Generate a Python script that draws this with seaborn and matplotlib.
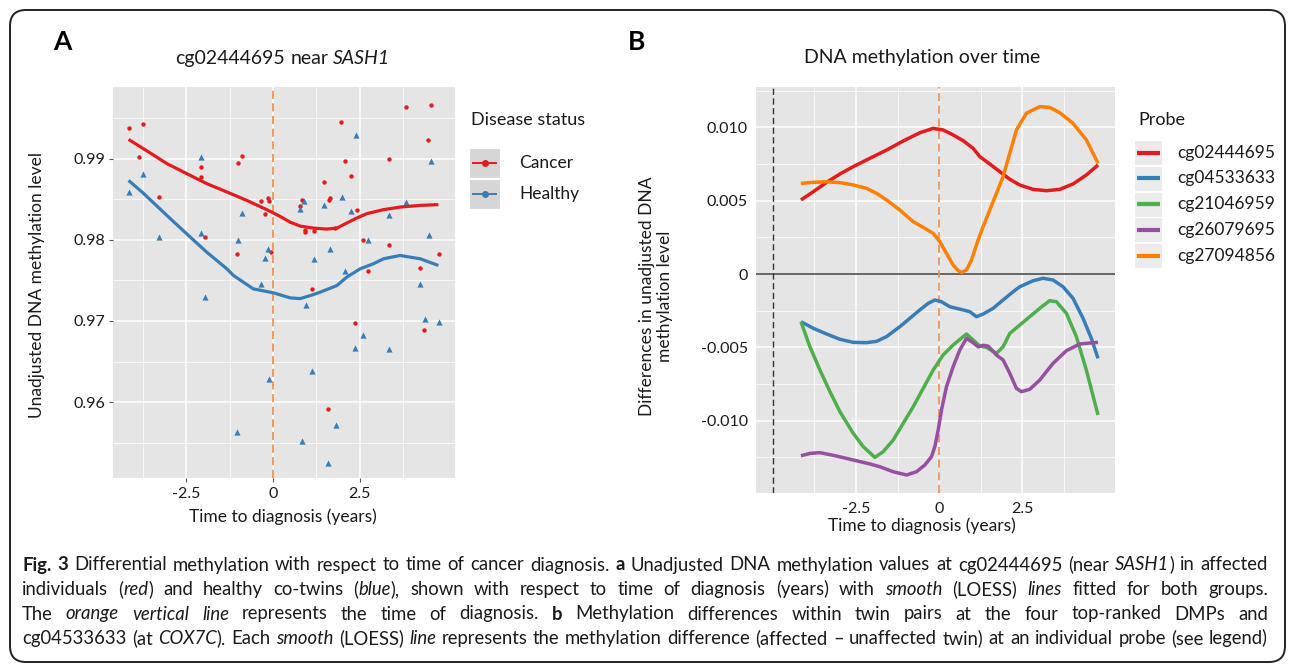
import numpy as np
import pandas as pd
import seaborn as sns
import matplotlib
matplotlib.use("Agg")
import matplotlib.pyplot as plt
from matplotlib.patches import FancyBboxPatch, Rectangle
from matplotlib.lines import Line2D
from matplotlib.transforms import IdentityTransform

# ---------------- data: panel A ----------------
cancer_t = [-4.16, -3.74, -3.87, -3.29, -2.08, -2.08, -1.95, -1.00, -0.89, -1.03, -0.35, -0.14,
            -0.11, -0.24, -0.05, 3.84, 4.54, 1.97, 4.47, 3.35, 2.07, 2.24, 1.46, 0.84, 0.77,
            1.64, 1.60, 2.41, 0.91, 0.93, 1.19, 1.79, 2.59, 3.33, 4.77, 4.23, 2.73, 1.12, 2.35,
            4.36, 1.59]
cancer_m = [0.9937, 0.9942, 0.9902, 0.9853, 0.9889, 0.9877, 0.9803, 0.9894, 0.9903, 0.9783, 0.9848,
            0.9851, 0.9848, 0.9832, 0.9785, 0.9963, 0.9966, 0.9945, 0.9923, 0.9900, 0.9897, 0.9879,
            0.9871, 0.9849, 0.9841, 0.9851, 0.9849, 0.9837, 0.9812, 0.9809, 0.9811, 0.9815, 0.9800,
            0.9794, 0.9782, 0.9765, 0.9761, 0.9739, 0.9697, 0.9689, 0.9592]
healthy_t = [-4.16, -3.74, -3.29, -2.08, -2.08, -0.89, -1.00, -0.14, -0.24, -0.35, -1.95, -0.11,
             -1.03, 2.40, 4.54, 0.90, 0.77, 1.46, 1.98, 2.24, 3.84, 3.33, 4.48, 2.74, 1.64, 1.19,
             2.07, 4.23, 0.94, 4.37, 4.78, 2.60, 2.35, 3.35, 1.12, 1.80, 0.84, 1.59]
healthy_m = [0.9859, 0.9881, 0.9803, 0.9902, 0.9808, 0.9833, 0.9800, 0.9788, 0.9777, 0.9746, 0.9730,
             0.9628, 0.9563, 0.9929, 0.9897, 0.9848, 0.9838, 0.9843, 0.9853, 0.9835, 0.9847, 0.9830,
             0.9806, 0.9800, 0.9788, 0.9776, 0.9762, 0.9746, 0.9720, 0.9702, 0.9699, 0.9683, 0.9667,
             0.9665, 0.9638, 0.9572, 0.9552, 0.9525]

# LOESS curves
cancer_fit_t = [-4.16, -3.74, -3.06, -2.49, -1.91, -1.33, -0.76, -0.18, 0.20, 0.49, 0.78, 1.16,
                1.55, 1.84, 2.12, 2.41, 2.70, 3.18, 3.66, 4.24, 4.76]
cancer_fit_m = [0.99235, 0.99123, 0.98938, 0.98815, 0.98691, 0.98588, 0.98485, 0.98370, 0.98288,
                0.98217, 0.98168, 0.98143, 0.98131, 0.98143, 0.98205, 0.98267, 0.98321, 0.98370,
                0.98402, 0.98423, 0.98432]
healthy_fit_t = [-4.16, -3.74, -3.06, -2.49, -1.91, -1.33, -1.14, -0.57, 0.01, 0.49, 0.78, 1.07,
                 1.35, 1.84, 2.12, 2.51, 2.89, 3.18, 3.66, 4.24, 4.76]
healthy_fit_m = [0.9873, 0.98575, 0.98300, 0.98074, 0.97847, 0.97642, 0.97560, 0.97395, 0.97346,
                 0.97284, 0.97275, 0.97312, 0.97353, 0.97436, 0.97538, 0.97642, 0.97704, 0.97765,
                 0.97806, 0.97765, 0.97683]

status_labels = ["Cancer", "Healthy"]

# ---------------- data: panel B ----------------
probes = ["cg02444695", "cg04533633", "cg21046959", "cg26079695", "cg27094856"]
p1_t = [-4.15, -3.78, -3.38, -2.98, -2.58, -2.08, -1.58, -1.08, -0.58, -0.18, 0.12, 0.42, 0.72,
        1.02, 1.22, 1.52, 1.82, 2.12, 2.42, 2.82, 3.22, 3.62, 4.02, 4.42, 4.77]
p1_d = [0.00505, 0.00561, 0.00625, 0.00682, 0.00732, 0.00789, 0.00845, 0.00907, 0.00963, 0.00993,
        0.00982, 0.00948, 0.00909, 0.00857, 0.00800, 0.00750, 0.00698, 0.00646, 0.00607, 0.00577,
        0.00568, 0.00577, 0.00614, 0.00675, 0.00743]
p2_t = [-4.15, -3.78, -3.38, -2.98, -2.58, -2.18, -1.88, -1.58, -1.18, -0.88, -0.58, -0.33, -0.13,
        0.07, 0.32, 0.72, 0.92, 1.12, 1.32, 1.62, 1.92, 2.22, 2.42, 2.82, 3.12, 3.42, 3.72, 4.02,
        4.32, 4.57, 4.77]
p2_d = [-0.00325, -0.00370, -0.00409, -0.00445, -0.00466, -0.00468, -0.00459, -0.00427, -0.00359,
        -0.00302, -0.00245, -0.00200, -0.00177, -0.00189, -0.00223, -0.00245, -0.00257, -0.00291,
        -0.00273, -0.00234, -0.00177, -0.00121, -0.00087, -0.00046, -0.00029, -0.00041, -0.00087,
        -0.00166, -0.00302, -0.00439, -0.00575]
p3_t = [-4.15, -3.88, -3.58, -3.28, -2.98, -2.58, -2.28, -1.93, -1.68, -1.38, -1.08, -0.78, -0.48,
        -0.18, 0.12, 0.42, 0.82, 1.02, 1.22, 1.42, 1.72, 1.92, 2.12, 2.42, 2.72, 3.02, 3.32, 3.52,
        3.82, 4.12, 4.42, 4.77]
p3_d = [-0.00325, -0.00496, -0.00655, -0.00802, -0.00939, -0.01086, -0.01177, -0.01250, -0.01211,
        -0.01132, -0.01018, -0.00905, -0.00780, -0.00655, -0.00552, -0.00484, -0.00409, -0.00450,
        -0.00491, -0.00500, -0.00541, -0.00496, -0.00405, -0.00348, -0.00291, -0.00234, -0.00182,
        -0.00189, -0.00268, -0.00427, -0.00655, -0.00961]
p4_t = [-4.15, -3.88, -3.58, -3.08, -2.58, -2.08, -1.78, -1.38, -0.98, -0.68, -0.43, -0.23, -0.13,
        -0.03, 0.07, 0.22, 0.42, 0.62, 0.82, 1.02, 1.17, 1.32, 1.47, 1.72, 1.92, 2.12, 2.32, 2.47,
        2.72, 3.02, 3.42, 3.82, 4.22, 4.77]
p4_d = [-0.01239, -0.01223, -0.01218, -0.01241, -0.01268, -0.01295, -0.01314, -0.01348, -0.01370,
        -0.01348, -0.01302, -0.01245, -0.01177, -0.01064, -0.00927, -0.00768, -0.00632, -0.00518,
        -0.00439, -0.00468, -0.00496, -0.00486, -0.00491, -0.00552, -0.00586, -0.00677, -0.00780,
        -0.00802, -0.00786, -0.00723, -0.00609, -0.00523, -0.00477, -0.00466]
p5_t = [-4.15, -3.78, -3.38, -2.98, -2.58, -2.18, -1.88, -1.58, -1.18, -0.78, -0.48, -0.18, 0.02,
        0.22, 0.42, 0.57, 0.67, 0.82, 0.97, 1.17, 1.32, 1.52, 1.72, 1.92, 2.12, 2.32, 2.62, 3.02,
        3.32, 3.62, 4.02, 4.42, 4.77]
p5_d = [0.00618, 0.00625, 0.00629, 0.00623, 0.00607, 0.00584, 0.00550, 0.00505, 0.00436, 0.00357,
        0.00318, 0.00277, 0.00220, 0.00141, 0.00061, 0.00023, 0.00011, 0.00027, 0.00095, 0.00232,
        0.00323, 0.00436, 0.00550, 0.00664, 0.00823, 0.00982, 0.01096, 0.01141, 0.01136, 0.01100,
        0.01027, 0.00914, 0.00755]

xticksA = [-2.5, 0, 2.5]
xtick_labelsA = ["-2.5", "0", "2.5"]
yticksA = [0.96, 0.97, 0.98, 0.99]
ytick_labelsA = ["0.96", "0.97", "0.98", "0.99"]
xticksB = [-2.5, 0, 2.5]
xtick_labelsB = ["-2.5", "0", "2.5"]
yticksB = [-0.010, -0.005, 0, 0.005, 0.010]
ytick_labelsB = ["-0.010", "-0.005", "0", "0.005", "0.010"]

# ---------------- style ----------------
W, H = 1290, 664
sns.set_theme(style="darkgrid")
FAM = ["Lato", "DejaVu Sans"]
plt.rcParams["font.family"] = FAM
plt.rcParams["axes.unicode_minus"] = False
plt.rcParams["lines.solid_joinstyle"] = "round"
plt.rcParams["lines.solid_capstyle"] = "butt"

RED = "#E41A1C"
BLUE = "#377EB8"
probe_colors = ["#E41A1C", "#377EB8", "#4DAF4A", "#984EA3", "#FF7F00"]
PANEL_BG = "#E5E5E5"
TXT = "#1a1a1a"
VLINE = "#E8955A"

fig = plt.figure(figsize=(W / 100, H / 100), dpi=100)
fig.patch.set_facecolor("white")
renderer = fig.canvas.get_renderer()
IDT = IdentityTransform()


def rect(l, t, r, b):
    return [l / W, 1 - b / H, (r - l) / W, (b - t) / H]


def style_axes(ax, xmaj, xmin_, ymaj, ymin_, xl, yl):
    ax.set_facecolor(PANEL_BG)
    for s in ax.spines.values():
        s.set_visible(False)
    ax.set_xticks(xmaj)
    ax.set_xticklabels(xl)
    ax.set_xticks(xmin_, minor=True)
    ax.set_yticks(ymaj)
    ax.set_yticklabels(yl)
    ax.set_yticks(ymin_, minor=True)
    ax.grid(which="major", color="white", lw=1.1)
    ax.grid(which="minor", color="white", lw=0.5)
    ax.tick_params(which="major", length=3, width=0.8, color="#555555", labelsize=11.5,
                   labelcolor=TXT, pad=3, left=True, bottom=True)
    ax.tick_params(which="minor", length=0)
    ax.set_xlabel("")
    ax.set_ylabel("")
    ax.set_axisbelow(True)


# ---------------- panel A ----------------
axA = fig.add_axes(rect(113.3, 87.3, 455, 478.3))
dfA = pd.DataFrame({
    "t": cancer_t + healthy_t,
    "m": cancer_m + healthy_m,
    "status": [status_labels[0]] * len(cancer_t) + [status_labels[1]] * len(healthy_t),
})
sns.scatterplot(data=dfA[dfA.status == "Cancer"], x="t", y="m", color=RED, marker="o", s=10,
                linewidth=0, legend=False, ax=axA, zorder=3)
sns.scatterplot(data=dfA[dfA.status == "Healthy"], x="t", y="m", color=BLUE, marker="^", s=20,
                linewidth=0, legend=False, ax=axA, zorder=3)
sns.lineplot(x=cancer_fit_t, y=cancer_fit_m, color=RED, lw=2.3, sort=False, estimator=None,
             ax=axA, zorder=4)
sns.lineplot(x=healthy_fit_t, y=healthy_fit_m, color=BLUE, lw=2.3, sort=False, estimator=None,
             ax=axA, zorder=4)
axA.axvline(0, color=VLINE, ls=(0, (4.5, 2.5)), lw=1.3, zorder=2.5)
axA.set_xlim(-4.6, 5.24)
axA.set_ylim(0.95062, 0.99877)
style_axes(axA, xticksA, [-3.75, -1.25, 1.25, 3.75], yticksA, [0.955, 0.965, 0.975, 0.985, 0.995],
           xtick_labelsA, ytick_labelsA)

# ---------------- panel B ----------------
axB = fig.add_axes(rect(756, 86.7, 1115, 493.3))
dfB = pd.concat([
    pd.DataFrame({"t": t, "d": d, "probe": p})
    for t, d, p in zip([p1_t, p2_t, p3_t, p4_t, p5_t], [p1_d, p2_d, p3_d, p4_d, p5_d], probes)
])
axB.axhline(0, color="#4d4d4d", lw=1.2, zorder=2)
axB.axvline(-5, color="#333333", ls=(0, (4.5, 2.5)), lw=1.0, zorder=2)
axB.axvline(0, color=VLINE, ls=(0, (4.5, 2.5)), lw=1.3, zorder=2)
sns.lineplot(data=dfB, x="t", y="d", hue="probe", hue_order=probes, palette=probe_colors,
             lw=2.5, sort=False, estimator=None, units="probe", legend=False, ax=axB, zorder=3)
axB.set_xlim(-5.5, 5.28)
axB.set_ylim(-0.01495, 0.01277)
style_axes(axB, xticksB, [-3.75, -1.25, 1.25, 3.75], yticksB,
           [-0.0125, -0.0075, -0.0025, 0.0025, 0.0075, 0.0125], xtick_labelsB, ytick_labelsB)
axB.tick_params(which="major", length=0, pad=6)


# ---------------- text helpers ----------------
def ftext(x, y, s, **kw):
    """text in pixel coords (y from top)."""
    kw.setdefault("color", TXT)
    kw.setdefault("family", FAM)
    return fig.text(x, H - y, s, transform=IDT, **kw)


STY = {"n": dict(), "b": dict(fontweight="bold"), "i": dict(fontstyle="italic")}


def rich_line(segs, x0, ybase, size, x1=None, center=None):
    words = [[]]
    for text, st in segs:
        chunks = text.split(" ")
        for k, c in enumerate(chunks):
            if k > 0:
                words.append([])
            if c:
                words[-1].append((c, st))
    words = [w for w in words if w]
    arts = []
    widths = []
    for w in words:
        row = []
        tot = 0
        for piece, st in w:
            t = fig.text(0, H - ybase, piece, transform=IDT, fontsize=size, family=FAM, color=TXT,
                         va="baseline", ha="left", **STY[st])
            wd = t.get_window_extent(renderer).width
            row.append((t, wd))
            tot += wd
        arts.append(row)
        widths.append(tot)
    a = fig.text(0, 0, "x x", fontsize=size, family=FAM)
    b = fig.text(0, 0, "xx", fontsize=size, family=FAM)
    space = a.get_window_extent(renderer).width - b.get_window_extent(renderer).width
    a.remove()
    b.remove()
    natural = sum(widths) + space * (len(words) - 1)
    if x1 is not None and len(words) > 1:
        gap = (x1 - x0 - sum(widths)) / (len(words) - 1)
    else:
        gap = space
    if center is not None:
        x0 = center - natural / 2
    x = x0
    for row in arts:
        for t, wd in row:
            t.set_x(x)
            x += wd
        x += gap
    return natural


# panel letters & titles
ftext(62, 42, "A", fontsize=19, fontweight="bold", ha="center", va="center", color="black")
ftext(637, 42, "B", fontsize=19, fontweight="bold", ha="center", va="center", color="black")
rich_line([("cg02444695 near ", "n"), ("SASH1", "i")], 0, 64, 14, center=283)
ftext(922, 58, "DNA methylation over time", fontsize=14, ha="center", va="center")

# axis labels
ftext(283, 517, "Time to diagnosis (years)", fontsize=12.5, ha="center", va="center")
ftext(37, 285, "Unadjusted DNA methylation level", fontsize=12.5, ha="center", va="center",
      rotation=90)
ftext(922, 526, "Time to diagnosis (years)", fontsize=12.5, ha="center", va="center")
ftext(656, 296, "Differences in unadjusted DNA\nmethylation level", fontsize=12.5, ha="center",
      va="center", rotation=90, multialignment="center", linespacing=1.15)

# legend A
ftext(471, 120, "Disease status", fontsize=13, ha="left", va="center")
for i, (lab, col) in enumerate(zip(status_labels, [RED, BLUE])):
    top = 148 + i * 31
    fig.add_artist(Rectangle((469, H - top - 30), 31, 30, transform=IDT, facecolor="#D6D6D6",
                             edgecolor="white", lw=0.8))
    cy = H - top - 15
    fig.add_artist(Line2D([472, 497], [cy, cy], transform=IDT, color=col, lw=1.4))
    fig.add_artist(Line2D([484.5], [cy], transform=IDT, color=col, marker="o", ms=5,
                          markeredgewidth=0))
    ftext(519, top + 15, lab, fontsize=12.5, ha="left", va="center")

# legend B
ftext(1138, 120, "Probe", fontsize=13, ha="left", va="center")
for i, (lab, col) in enumerate(zip(probes, probe_colors)):
    cyp = 152.7 + i * 25.75
    fig.add_artist(Rectangle((1134, H - cyp - 12.5), 28, 25, transform=IDT, facecolor="#EBEBEB",
                             edgecolor="white", lw=0.8))
    fig.add_artist(Line2D([1137, 1160], [H - cyp, H - cyp], transform=IDT, color=col, lw=3))
    ftext(1177, cyp, lab, fontsize=12.5, ha="left", va="center")

# caption
cap = [
    [("Fig. 3", "b"), (" Differential methylation with respect to time of cancer diagnosis. ", "n"),
     ("a", "b"), (" Unadjusted DNA methylation values at cg02444695 (near ", "n"), ("SASH1", "i"),
     (") in affected", "n")],
    [("individuals (", "n"), ("red", "i"), (") and healthy co-twins (", "n"), ("blue", "i"),
     ("), shown with respect to time of diagnosis (years) with ", "n"), ("smooth", "i"),
     (" (LOESS) ", "n"), ("lines", "i"), (" fitted for both groups.", "n")],
    [("The ", "n"), ("orange vertical line", "i"), (" represents the time of diagnosis. ", "n"),
     ("b", "b"), (" Methylation differences within twin pairs at the four top-ranked DMPs and", "n")],
    [("cg04533633 (at ", "n"), ("COX7C", "i"), ("). Each ", "n"), ("smooth", "i"), (" (LOESS) ", "n"),
     ("line", "i"), (" represents the methylation difference (affected \u2013 unaffected twin) at an "
                     "individual probe (see legend)", "n")],
]
probe_t = fig.text(0, 0, "".join(s for s, _ in cap[0]), fontsize=12, family=FAM)
wnat = probe_t.get_window_extent(renderer).width
probe_t.remove()
cap_size = 12 * (1246 / wnat) * 0.99
probe_t = fig.text(0, 0, "".join(s for s, _ in cap[3]), fontsize=cap_size, family=FAM)
w4 = probe_t.get_window_extent(renderer).width
probe_t.remove()
if w4 > 1244:
    cap_size *= 1244 / w4
bases = [570.5, 595, 619.5, 644]
for line, yb in zip(cap, bases):
    rich_line(line, 22, yb, cap_size, x1=1268)

# outer border
fig.add_artist(FancyBboxPatch((10, 2), 1275, 652, boxstyle="round,pad=0,rounding_size=16",
                              transform=IDT, facecolor="none", edgecolor="#222222", lw=1.4))

fig.savefig("out.png", dpi=100)
